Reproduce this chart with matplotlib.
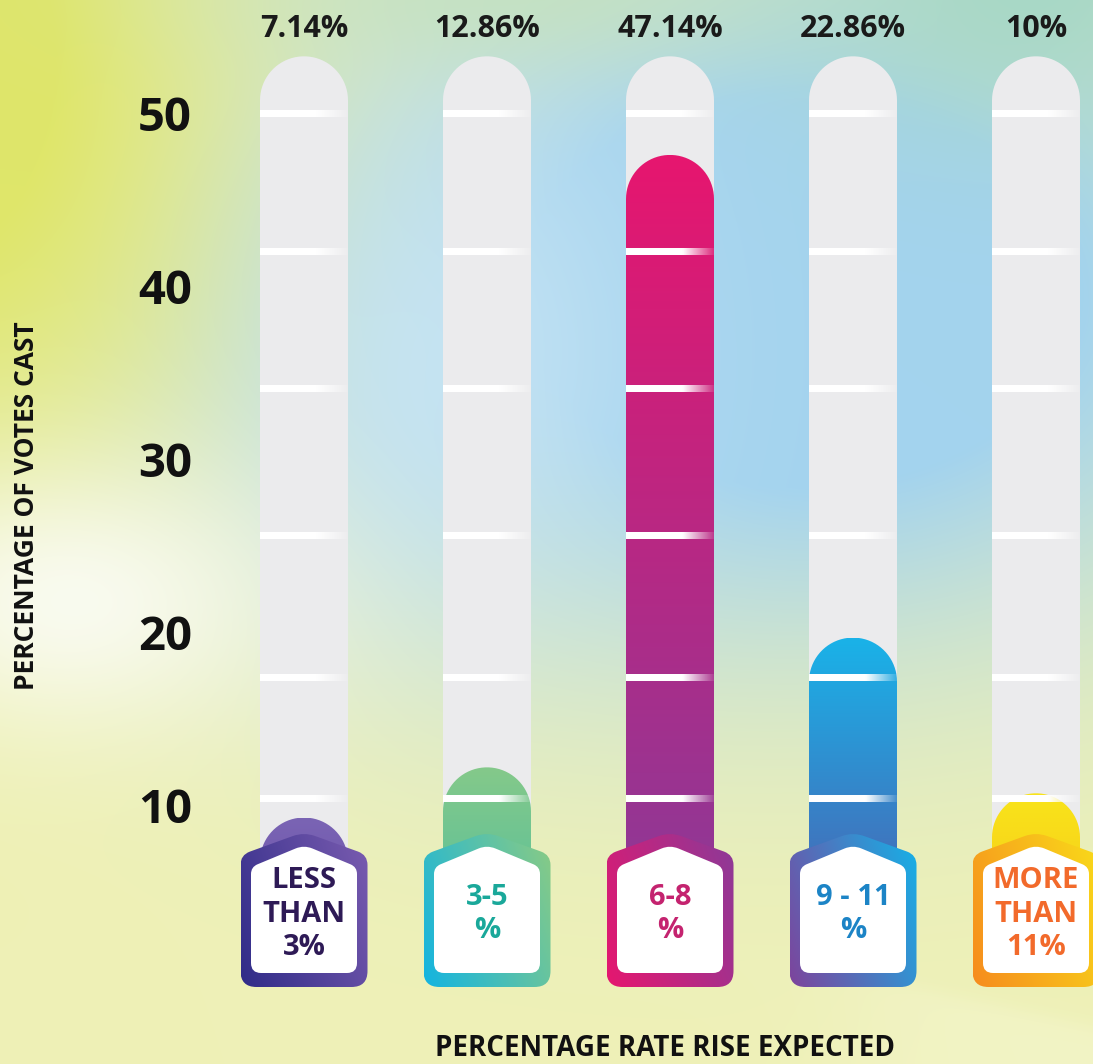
import numpy as np
import matplotlib.pyplot as plt
from matplotlib.path import Path
from matplotlib.patches import PathPatch
from matplotlib.colors import to_rgb

# data
categories = ["LESS\nTHAN\n3%", "3-5\n%", "6-8\n%", "9 - 11\n%", "MORE\nTHAN\n11%"]
vote_share = [7.14, 12.86, 47.14, 22.86, 10]
vote_labels = ["7.14%", "12.86%", "47.14%", "22.86%", "10%"]
# level each liquid column reaches in the artwork
fill_levels = [9.3, 12.2, 47.6, 19.7, 10.7]
y_ticks = [10, 20, 30, 40, 50]
scale_marks = [10.4, 17.4, 25.6, 34.1, 42.0, 50.0]
tube_top = 53.3

# colours
fill_top = ["#7a64b4", "#84c98a", "#e6166f", "#1ab2e8", "#f9e41a"]
fill_bot = ["#6a4fa8", "#55bf9c", "#8a3a98", "#4c60b0", "#f6c81a"]
tag_a = ["#302c88", "#14b4e0", "#e5176f", "#7d449c", "#f68c1e"]
tag_b = ["#7a5cb0", "#8acb84", "#8c3a98", "#15b2e8", "#f9dc1a"]
text_col = ["#2e1a56", "#1aa89a", "#c4236f", "#1c84c6", "#f26a2b"]
tube_col = "#ebebed"

W, H = 1093, 1064
PX_X = 183.0   # pixels per category step
PX_Y = 17.3    # pixels per percentage point
xmin = -304 / PX_X
xmax = xmin + W / PX_X
ymax = 30 + 459.4 / PX_Y
ymin = ymax - H / PX_Y
tag_bottom = 30 + (459.4 - 987) / PX_Y


def ylev(px):
    # vertical pixel (from top) -> data level
    return 30 + (459.4 - px) / PX_Y


plt.rcParams['font.family'] = ['Open Sans', 'DejaVu Sans']

fig = plt.figure(figsize=(W / 100, H / 100), dpi=100)
ax = fig.add_axes([0, 0, 1, 1])
ax.set_xlim(xmin, xmax)
ax.set_ylim(ymin, ymax)
ax.axis('off')

# background wash
yy, xx = np.mgrid[0:H, 0:W].astype(float)
bg = np.ones((H, W, 3)) * np.array(to_rgb("#eff1b7"))


def blend(img, col, w):
    w = w[..., None]
    return img * (1 - w) + np.array(to_rgb(col)) * w


def blob(cx, cy, sx, sy, k=1.0):
    return np.clip(k * np.exp(-((xx - cx) / sx) ** 2 - ((yy - cy) / sy) ** 2), 0, 1)


bg = blend(bg, "#a3d3ee", blob(800, 290, 480, 340, 1.4))
bg = blend(bg, "#c4e3f5", blob(420, 350, 230, 270, 1.0))
bg = blend(bg, "#dfe66a", blob(-60, 60, 270, 430, 1.2))
bg = blend(bg, "#c3e1c0", blob(520, -10, 300, 80, 0.8))
bg = blend(bg, "#a8d8c6", blob(1030, -20, 230, 160, 1.0))
bg = blend(bg, "#fbfcf6", blob(70, 600, 230, 140, 0.9))
edge = 1 / (1 + np.exp(-(yy - (975 + (xx - 860) * 0.22)) / 5))
fade = 1 / (1 + np.exp(-(xx - 860) / 40))
bg = blend(bg, "#f6f7d4", 0.45 * edge * fade)
ax.imshow(bg, extent=[xmin, xmax, ymin, ymax], aspect='auto', zorder=0)


def to_data(pts, cx, base):
    pts = np.asarray(pts, float)
    return np.column_stack([cx + pts[:, 0] / PX_X, base + pts[:, 1] / PX_Y])


def rounded(pts, radii):
    pts = np.asarray(pts, float)
    n = len(pts)
    verts, codes = [], []
    for i in range(n):
        p, a, b = pts[i], pts[i - 1], pts[(i + 1) % n]
        ua = (a - p) / np.linalg.norm(a - p)
        ub = (b - p) / np.linalg.norm(b - p)
        verts += [p + ua * radii[i], p, p + ub * radii[i]]
        codes += [Path.MOVETO if i == 0 else Path.LINETO, Path.CURVE3, Path.CURVE3]
    verts.append(verts[0])
    codes.append(Path.CLOSEPOLY)
    return np.array(verts), codes


def tube_path(cx, top, bottom, hw=44):
    ang = np.linspace(0, np.pi, 40)
    r_y = hw / PX_Y
    pts = [(cx - hw / PX_X, bottom), (cx + hw / PX_X, bottom)]
    pts += [(cx + hw * np.cos(a) / PX_X, top - r_y + hw * np.sin(a) / PX_Y) for a in ang]
    pts.append(pts[0])
    return Path(pts, closed=True)


def gradient_fill(path, c1, c2, z, diagonal=False):
    patch = PathPatch(path, facecolor='none', edgecolor='none', zorder=z)
    ax.add_patch(patch)
    ext = path.get_extents()
    n = 64
    u = np.linspace(0, 1, n)
    if diagonal:
        vb = np.linspace(1, 0, n)[:, None]
        t = np.clip(0.7 * u[None, :] + 0.3 * vb, 0, 1)
    else:
        t = np.repeat(u[:, None], 2, axis=1)
    a, b = np.array(to_rgb(c1)), np.array(to_rgb(c2))
    img = a * (1 - t[..., None]) + b * t[..., None]
    im = ax.imshow(img, extent=[ext.x0, ext.x1, ext.y0, ext.y1], aspect='auto',
                   zorder=z, interpolation='bilinear')
    im.set_clip_path(patch)


outer = [(-63.5, 0), (63.5, 0), (63.5, 132), (0, 155), (-63.5, 132)]
inner = [(-53, 14), (53, 14), (53, 120), (0, 142), (-53, 120)]

line_img = np.ones((1, 64, 4))
line_img[0, :, 3] = np.interp(np.linspace(0, 1, 64), [0, 0.65, 1], [1, 1, 0.1])

for i, cat in enumerate(categories):
    # empty tube
    ax.add_patch(PathPatch(tube_path(i, tube_top, 3), facecolor=tube_col,
                           edgecolor='none', zorder=1))
    # liquid column
    gradient_fill(tube_path(i, fill_levels[i], 3), fill_top[i], fill_bot[i], 2)
    # scale marks
    for m in scale_marks:
        ax.imshow(line_img, extent=[i - 44 / PX_X, i + 44 / PX_X, m - 3.5 / PX_Y, m + 3.5 / PX_Y],
                  aspect='auto', zorder=3, interpolation='bilinear')
    # label tag
    v, c = rounded(outer, [16, 16, 10, 12, 10])
    gradient_fill(Path(to_data(v, i, tag_bottom), c), tag_a[i], tag_b[i], 4, diagonal=True)
    v, c = rounded(inner, [10, 10, 7, 9, 7])
    ax.add_patch(PathPatch(Path(to_data(v, i, tag_bottom), c), facecolor='white',
                           edgecolor='none', zorder=5))
    ax.text(i, tag_bottom + 73 / PX_Y, cat, ha='center', va='center', fontsize=21,
            fontweight='bold', color=text_col[i], linespacing=1.22, zorder=6)
    # value on top
    ax.text(i, ylev(37), vote_labels[i], ha='center', va='baseline',
            fontsize=22, fontweight='bold', color='#1a1a1a', zorder=6)

for t in y_ticks:
    ax.text(xmin + 165 / PX_X, t, str(t), ha='center', va='center_baseline', fontsize=34,
            fontweight='bold', color='#111111', zorder=6)

ax.text(xmin + 27 / PX_X, ylev(506), "PERCENTAGE OF VOTES CAST", rotation=90,
        ha='center', va='center', fontsize=19, fontweight='bold', color='#111111', zorder=6)
ax.text(xmin + 665 / PX_X, ylev(1056), "PERCENTAGE RATE RISE EXPECTED",
        ha='center', va='baseline', fontsize=20, fontweight='bold', color='#111111', zorder=6)

fig.savefig("out.png", dpi=100)
